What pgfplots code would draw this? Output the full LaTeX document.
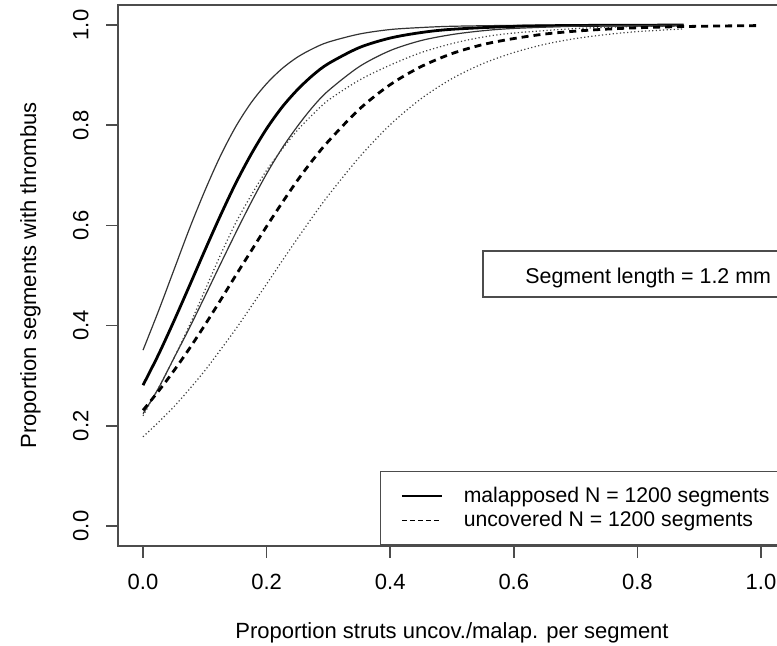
\documentclass[border=0pt]{standalone}
\usepackage{fontspec}
\setmainfont{Liberation Sans}
\usepackage{pgfplots}
\pgfplotsset{compat=1.18}
\begin{document}
\fontsize{11pt}{13.2pt}\selectfont
\begin{tikzpicture}
\useasboundingbox (0,0) rectangle (388.5pt,323pt);
\clip (0,0) rectangle (388.5pt,323pt);
\begin{axis}[
  at={(59.15pt,50pt)}, anchor=south west,
  scale only axis, width=333.7pt, height=270.5pt,
  xmin=-0.04, xmax=1.04, ymin=-0.04, ymax=1.04,
  xtick={0,0.2,0.4,0.6,0.8,1}, xticklabels={0.0,0.2,0.4,0.6,0.8,1.0},
  ytick={0,0.2,0.4,0.6,0.8,1}, yticklabels={0.0,0.2,0.4,0.6,0.8,1.0},
  xtick pos=bottom, ytick pos=left, tick align=outside, major tick length=6pt,
  axis line style={black!70, line width=0.8pt},
  tick style={black!70, line width=0.8pt},
  ticklabel style={font=\fontsize{11pt}{13pt}\selectfont, inner sep=0pt},
  x tick label style={anchor=base, yshift=-15.65pt},
  y tick label style={xshift=-9pt, rotate=90, anchor=base},
  xlabel={Proportion struts uncov./malap. per segment},
  ylabel={Proportion segments with thrombus},
  every axis x label/.style={at={(axis description cs:0.5,-0.1701)}, anchor=base, inner sep=0pt, font=\fontsize{11pt}{13pt}\selectfont},
  every axis y label/.style={at={(axis description cs:-0.1233,0.5)}, rotate=90, anchor=base, inner sep=0pt, font=\fontsize{11pt}{13pt}\selectfont},
  legend style={at={(axis cs:0.3830,-0.04)}, anchor=south west, draw=black!70, line width=0.8pt, fill=white,
    inner xsep=10.15pt, inner ysep=6.4pt, row sep=0pt, font=\fontsize{10.6pt}{12.5pt}\selectfont,
    nodes={inner sep=0pt, text height=9.3pt, text depth=2.7pt},
    /tikz/every odd column/.append style={column sep=10.5pt}},
  legend cell align=left,
  legend image code/.code={\draw[#1] (0pt,0pt) -- (20pt,0pt);},
]
% A: upper CI malapposed (thin solid)
\addplot[forget plot, smooth, black!80, line width=0.6pt] coordinates {
(0,.351)(.025,.429)(.05,.511)(.075,.593)(.1,.669)(.125,.738)(.15,.797)(.175,.845)(.2,.883)(.225,.913)(.25,.936)(.275,.953)(.3,.966)(.35,.982)(.4,.991)(.45,.995)(.5,.9975)(.6,.9993)(.7,.9998)(.875,1.0)};
% B: malapposed (thick solid)
\addplot[forget plot, smooth, black, line width=1.4pt] coordinates {
(0,.281)(.025,.342)(.05,.409)(.075,.479)(.1,.550)(.125,.619)(.15,.684)(.175,.742)(.2,.793)(.225,.836)(.25,.871)(.275,.900)(.3,.923)(.35,.955)(.4,.974)(.45,.985)(.5,.9915)(.6,.9973)(.7,.9991)(.875,.9999)};
% C: lower CI malapposed (thin solid)
\addplot[forget plot, smooth, black!80, line width=0.6pt] coordinates {
(0,.224)(.025,.275)(.05,.335)(.075,.395)(.1,.458)(.125,.522)(.15,.585)(.175,.646)(.2,.703)(.225,.754)(.25,.798)(.275,.837)(.3,.869)(.35,.917)(.4,.949)(.45,.969)(.5,.981)(.55,.9886)(.6,.9932)(.7,.9976)(.8,.9991)(.875,.9996)};
% D: upper CI uncovered (dotted)
\addplot[forget plot, smooth, black!75, line width=0.6pt, dash pattern=on 0.6pt off 1.2pt] coordinates {
(0,.22)(.025,.275)(.05,.335)(.075,.40)(.1,.47)(.125,.54)(.15,.605)(.175,.66)(.2,.71)(.225,.752)(.25,.79)(.275,.822)(.3,.85)(.35,.89)(.4,.92)(.45,.945)(.5,.963)(.55,.976)(.6,.984)(.7,.993)(.8,.997)(.875,.998)};
% E: uncovered (thick dashed)
\addplot[forget plot, smooth, black, line width=1.4pt, dash pattern=on 3.5pt off 2.5pt] coordinates {
(0,.231)(.025,.269)(.05,.310)(.075,.354)(.1,.401)(.125,.450)(.15,.500)(.175,.549)(.2,.598)(.225,.645)(.25,.690)(.275,.731)(.3,.768)(.35,.832)(.4,.881)(.45,.917)(.5,.943)(.55,.961)(.6,.973)(.65,.982)(.7,.9878)(.75,.9918)(.8,.9945)(.85,.9963)(.9,.9975)(.95,.9983)(1,.9989)};
% F: lower CI uncovered (dotted)
\addplot[forget plot, smooth, black!75, line width=0.6pt, dash pattern=on 0.6pt off 1.2pt] coordinates {
(0,.178)(.025,.207)(.05,.238)(.075,.273)(.1,.310)(.125,.351)(.15,.393)(.175,.438)(.2,.483)(.225,.529)(.25,.574)(.275,.618)(.3,.660)(.35,.736)(.4,.801)(.45,.853)(.5,.893)(.55,.923)(.6,.945)(.65,.9615)(.7,.973)(.75,.981)(.8,.9868)(.875,.9923)};
\addlegendimage{black, line width=1pt}
\addlegendentry{malapposed N = 1200 segments}
\addlegendimage{black, line width=0.5pt, dash pattern=on 2.5pt off 1.5pt}
\addlegendentry{uncovered N = 1200 segments}
\draw[black!70, line width=0.8pt, fill=white] (axis cs:0.5502,0.4571) rectangle (axis cs:1.04,0.5489);
\node[anchor=base west, inner sep=0pt, font=\fontsize{10.7pt}{13pt}\selectfont] at (axis cs:0.6181,0.4850) {Segment length = 1.2 mm};
\end{axis}
\end{tikzpicture}
\end{document}
